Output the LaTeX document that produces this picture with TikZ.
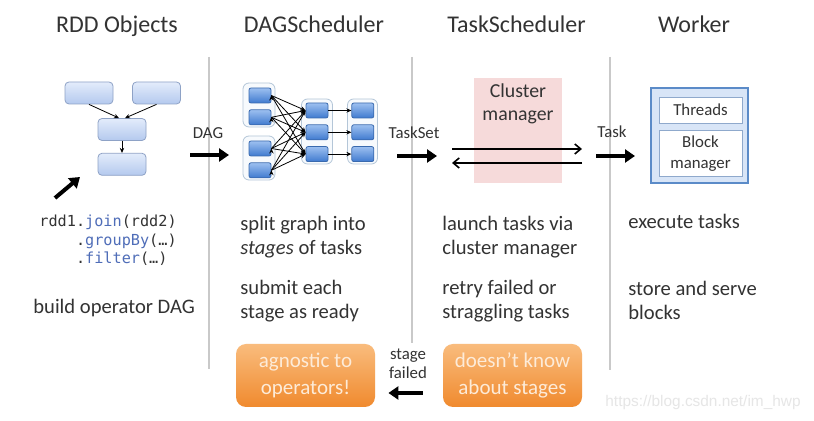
\documentclass[tikz,border=0pt]{standalone}
\usepackage{fontspec}
\setmainfont{Carlito}
\setmonofont{DejaVu Sans Mono}
\newfontfamily\urlfont{Liberation Sans}
\usepackage{tikz}
\usetikzlibrary{positioning}
\usetikzlibrary{arrows.meta}
\definecolor{txtgray}{HTML}{333333}
\definecolor{sepgray}{HTML}{C9C9C9}
\definecolor{rddtop}{HTML}{E3ECFB}
\definecolor{rddbot}{HTML}{B4C9EE}
\definecolor{rddline}{HTML}{8EA2C6}
\definecolor{dagtop}{HTML}{9DC0F0}
\definecolor{dagbot}{HTML}{3F7ACF}
\definecolor{dagline}{HTML}{3A6AAE}
\definecolor{grpline}{HTML}{B4C6D8}
\definecolor{grpfill}{HTML}{F7FAFD}
\definecolor{pinkfill}{HTML}{F6DADA}
\definecolor{wfill}{HTML}{D8E5F7}
\definecolor{wline}{HTML}{5B8BC8}
\definecolor{wcellline}{HTML}{8FA9CC}
\definecolor{orangetop}{HTML}{F9BC7D}
\definecolor{orangebot}{HTML}{F08A2E}
\definecolor{orangetxt}{HTML}{FDEBD8}
\definecolor{codeblue}{HTML}{4F6DB8}
\definecolor{urlgray}{HTML}{E6E6E6}

\begin{document}
\begin{tikzpicture}[x=0.5pt,y=-0.5pt,
  every node/.style={text=txtgray},
  title/.style={anchor=base,font=\fontsize{12}{14}\selectfont},
  body/.style={anchor=north west,inner sep=0pt,align=left,font=\fontsize{10.3}{11.8}\selectfont},
  small/.style={inner sep=0pt,align=center,font=\fontsize{8.4}{9.5}\selectfont},
  sep/.style={draw=sepgray,line width=1pt},
  rddbox/.style={draw=rddline,rounded corners=2pt,top color=rddtop,bottom color=rddbot,minimum width=24pt,minimum height=11pt,inner sep=0pt},
  dagbox/.style={draw=dagline,line width=0.4pt,rounded corners=1pt,top color=dagtop,bottom color=dagbot,minimum width=11pt,minimum height=7.5pt,inner sep=0pt},
  grp/.style={draw=grpline,fill=grpfill,rounded corners=3pt,inner sep=0pt},
  wcell/.style={draw=wcellline,fill=white,minimum width=41.5pt,inner sep=0pt,align=center,font=\fontsize{8.4}{10.5}\selectfont},
  orange/.style={rounded corners=5pt,top color=orangetop,bottom color=orangebot,minimum width=69.5pt,minimum height=31.5pt,inner sep=0pt,align=center,text=orangetxt,font=\fontsize{10.5}{13.5}\selectfont},
  bigarrow/.style={line width=2pt,-{Triangle[length=5pt,width=6.5pt]}},
  thinarrow/.style={line width=0.4pt,-{Stealth[length=2.5pt,width=2.2pt]}},
  barbarrow/.style={line width=0.8pt,-{Straight Barb[length=3pt,width=5pt]}}]
  \useasboundingbox[fill=white] (0,0) rectangle (814,421);

  \node[title] (t1) at (117,33) {RDD Objects};
  \node[title] (t2) at (314,33) {DAGScheduler};
  \node[title] (t3) at (516.5,33) {TaskScheduler};
  \node[title] (t4) at (694,33) {Worker};

  \draw[sep] (209,57) -- (209,369);
  \draw[sep] (412,57) -- (412,343);
  \draw[sep] (610,57) -- (610,370);

  \node[rddbox] (a) at (89,93) {};
  \node[rddbox] (b) at (156.5,93) {};
  \node[rddbox] (c) at (122,129.5) {};
  \node[rddbox,below=6pt of c] (d) {};
  \draw[thinarrow] (a.south) -- ([xshift=-1.5pt]c.north);
  \draw[thinarrow] (b.south) -- ([xshift=1.5pt]c.north);
  \draw[thinarrow] (c) -- (d);

  \coordinate (p0) at (55,198);
  \coordinate (p1) at (80,177);
  \draw[bigarrow] (p0) -- (p1);
  \node[anchor=north west,inner sep=0pt,align=left,font=\ttfamily\fontsize{7.6}{9.25}\selectfont] (code) at (39,215)
    {rdd1.\textcolor{codeblue}{join}(rdd2)\\\phantom{rdd1}.\textcolor{codeblue}{groupBy}(…)\\\phantom{rdd1}.\textcolor{codeblue}{filter}(…)};
  \node[body] (bo) at (33,299) {build operator DAG};

  \node[small] (dl) at (208,133) {DAG};
  \coordinate (d0) at (190,155);
  \coordinate (d1) at (229,155);
  \draw[bigarrow] (d0) -- (d1);

  \node[grp,minimum width=16pt,minimum height=22pt] (g1) at (259,105) {};
  \node[grp,minimum width=16pt,minimum height=22pt] (g2) at (259,158) {};
  \node[grp,minimum width=15.5pt,minimum height=32.5pt] (g3) at (317,131.5) {};
  \node[grp,minimum width=15pt,minimum height=32.5pt] (g4) at (362.5,131.5) {};
  \node[dagbox] (l1) at (260,95.5) {};
  \node[dagbox,below=3pt of l1] (l2) {};
  \node[dagbox] (l3) at (260,148.5) {};
  \node[dagbox,below=3pt of l3] (l4) {};
  \node[dagbox] (m1) at (317,110.5) {};
  \node[dagbox,below=3pt of m1] (m2) {};
  \node[dagbox,below=3pt of m2] (m3) {};
  \node[dagbox,right=11.5pt of m1] (r1) {};
  \node[dagbox,right=11.5pt of m2] (r2) {};
  \node[dagbox,right=11.5pt of m3] (r3) {};
  \draw[thinarrow] (l1.east) edge (m1.west) edge (m2.west) edge (m3.west);
  \draw[thinarrow] (l2.east) edge (m1.west) edge (m2.west) edge (m3.west);
  \draw[thinarrow] (l3.east) edge (m1.west) edge (m2.west) edge (m3.west);
  \draw[thinarrow] (l4.east) edge (m1.west) edge (m2.west) edge (m3.west);
  \draw[thinarrow] (m1) -- (r1);
  \draw[thinarrow] (m2) -- (r2);
  \draw[thinarrow] (m3) -- (r3);

  \node[body] (s1) at (240,216) {split graph into\\\textit{stages} of tasks};
  \node[body] (s2) at (240,280) {submit each\\stage as ready};
  \node[orange] (o1) at (305.5,375.5) {agnostic to\\operators!};

  \node[small] (tl) at (414,133) {TaskSet};
  \coordinate (e0) at (397,156);
  \coordinate (e1) at (437,156);
  \draw[bigarrow] (e0) -- (e1);

  \node[fill=pinkfill,minimum width=44pt,minimum height=52.5pt,inner sep=0pt] (cm) at (518,130.5) {};
  \node[inner sep=0pt,align=center,font=\fontsize{9.9}{11.5}\selectfont] (cmt) at (518,104) {Cluster\\manager};
  \coordinate (c0) at (452,149);
  \coordinate (c1) at (582,149);
  \coordinate (c2) at (582,163);
  \coordinate (c3) at (452,163);
  \draw[barbarrow] (c0) -- (c1);
  \draw[barbarrow] (c2) -- (c3);

  \node[body] (u1) at (442,216) {launch tasks via\\cluster manager};
  \node[body] (u2) at (442,280) {retry failed or\\straggling tasks};
  \node[orange] (o2) at (512.5,375.5) {doesn't know\\about stages};

  \node[small] (sf) at (408,364) {stage\\failed};
  \draw[bigarrow,shorten <=10pt,shorten >=6.5pt] ([yshift=-8.75pt]o2.west) -- ([yshift=-8.75pt]o1.east);

  \node[small] (kl) at (612,132) {Task};
  \coordinate (k0) at (596,156);
  \coordinate (k1) at (635,156);
  \draw[bigarrow] (k0) -- (k1);

  \node[draw=wline,line width=1pt,fill=wfill,minimum width=48.5pt,minimum height=47.5pt,inner sep=0pt] (w) at (699.5,135.5) {};
  \node[wcell,minimum height=13pt] (th) at (700.5,110) {Threads};
  \node[wcell,minimum height=23pt,below=3.5pt of th] (bm) {Block\\manager};

  \node[body] (x1) at (628,214) {execute tasks};
  \node[body] (x2) at (628,281) {store and serve\\blocks};

  \node[text=urlgray,font=\urlfont\fontsize{7.7}{9}\selectfont,inner sep=0pt] (url) at (703,403) {https://blog.csdn.net/im\_hwp};
\end{tikzpicture}
\end{document}
